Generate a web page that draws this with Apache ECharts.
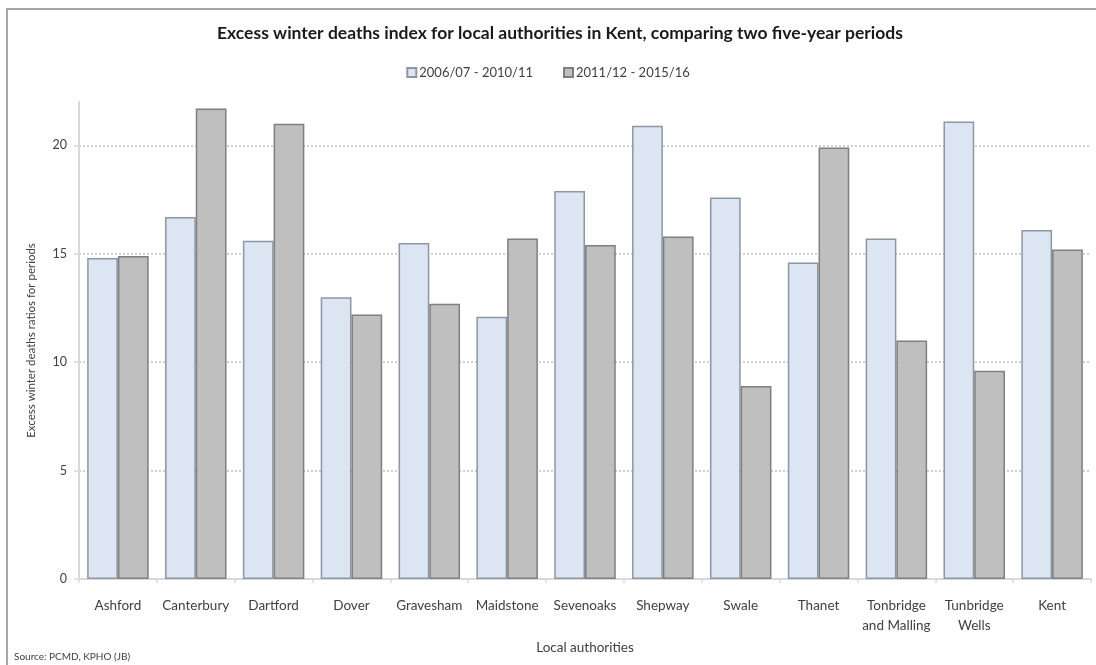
<!DOCTYPE html>
<html>
<head>
<meta charset="utf-8">
<style>
  html, body { margin: 0; padding: 0; background: #ffffff; }
  #chart { width: 1096px; height: 665px; }
</style>
<script src="https://cdn.jsdelivr.net/npm/echarts@6.0.0/dist/echarts.min.js"></script>
</head>
<body>
<div id="chart"></div>
<script>
// Local authorities in Kent (x-axis categories)
const authorities = [
  'Ashford', 'Canterbury', 'Dartford', 'Dover', 'Gravesham', 'Maidstone',
  'Sevenoaks', 'Shepway', 'Swale', 'Thanet', 'Tonbridge\nand Malling',
  'Tunbridge\nWells', 'Kent'
];

// Excess winter deaths index, first five-year period
const period1Name = '2006/07 - 2010/11';
const period1 = [14.8, 16.7, 15.6, 13.0, 15.5, 12.1, 17.9, 20.9, 17.6, 14.6, 15.7, 21.1, 16.1];

// Excess winter deaths index, second five-year period
const period2Name = '2011/12 - 2015/16';
const period2 = [14.9, 21.7, 21.0, 12.2, 12.7, 15.7, 15.4, 15.8, 8.9, 19.9, 11.0, 9.6, 15.2];

// Value axis ticks
const yTicks = [0, 5, 10, 15, 20];

const FONT = 'Lato, "Open Sans", sans-serif';
const chart = echarts.init(document.getElementById('chart'), null, { renderer: 'canvas' });

chart.setOption({
  animation: false,
  backgroundColor: '#ffffff',
  textStyle: { fontFamily: FONT },
  graphic: [
    {
      type: 'rect',
      silent: true,
      shape: { x: 7, y: 9, width: 1300, height: 900 },
      style: { fill: 'none', stroke: '#a6a6a6', lineWidth: 2 }
    },
    {
      type: 'text',
      left: 14,
      top: 652,
      style: { text: 'Source: PCMD, KPHO (JB)', fill: '#404040', font: '10px ' + FONT }
    }
  ],
  title: {
    text: 'Excess winter deaths index for local authorities in Kent, comparing two five-year periods',
    left: 555,
    textAlign: 'center',
    top: 19,
    textStyle: { fontFamily: FONT, fontWeight: 'bold', fontSize: 17.5, color: '#1a1a1a' }
  },
  legend: {
    left: 'center',
    top: 61,
    itemWidth: 9,
    itemHeight: 9,
    itemGap: 30,
    icon: 'rect',
    textStyle: { fontFamily: FONT, fontSize: 13, color: '#404040', padding: [0, 0, 0, -2] },
    data: [period1Name, period2Name]
  },
  grid: { left: 79, right: 5, top: 102, bottom: 86, containLabel: false },
  xAxis: {
    type: 'category',
    data: authorities,
    name: 'Local authorities',
    nameLocation: 'middle',
    nameGap: 60,
    nameTextStyle: { fontFamily: FONT, fontSize: 13.5, color: '#404040' },
    axisLine: { show: true, lineStyle: { color: '#d9d9d9', width: 2 } },
    axisTick: { show: true, alignWithLabel: false, length: 4, lineStyle: { color: '#d9d9d9', width: 1.5 } },
    axisLabel: {
      interval: 0,
      margin: 17,
      fontFamily: FONT,
      fontSize: 13.5,
      color: '#404040',
      lineHeight: 20
    },
    splitLine: { show: false }
  },
  yAxis: {
    type: 'value',
    min: yTicks[0],
    max: 22,
    interval: 5,
    name: 'Excess winter deaths ratios for periods',
    nameLocation: 'middle',
    nameRotate: 90,
    nameGap: 42,
    nameTextStyle: { fontFamily: FONT, fontSize: 11.5, color: '#404040' },
    axisLine: { show: true, lineStyle: { color: '#d9d9d9', width: 2 } },
    axisTick: { show: true, inside: false, length: 5, lineStyle: { color: '#d9d9d9', width: 1.5 } },
    axisLabel: {
      showMaxLabel: false,
      margin: 12,
      fontFamily: FONT,
      fontSize: 12.5,
      color: '#404040',
      formatter: function (v) { return yTicks.indexOf(v) >= 0 ? String(v) : ''; }
    },
    splitLine: {
      show: true,
      showMinLine: false,
      showMaxLine: false,
      lineStyle: { color: '#cfcfcf', width: 2, type: [2, 2] }
    }
  },
  series: [
    {
      name: period1Name,
      type: 'bar',
      data: period1,
      barGap: '0%',
      barCategoryGap: '21%',
      itemStyle: { color: '#dce6f2', borderColor: '#8c97a3', borderWidth: 1.5 }
    },
    {
      name: period2Name,
      type: 'bar',
      data: period2,
      barGap: '0%',
      barCategoryGap: '21%',
      itemStyle: { color: '#bfbfbf', borderColor: '#7f7f7f', borderWidth: 1.5 }
    }
  ]
});
</script>
</body>
</html>
